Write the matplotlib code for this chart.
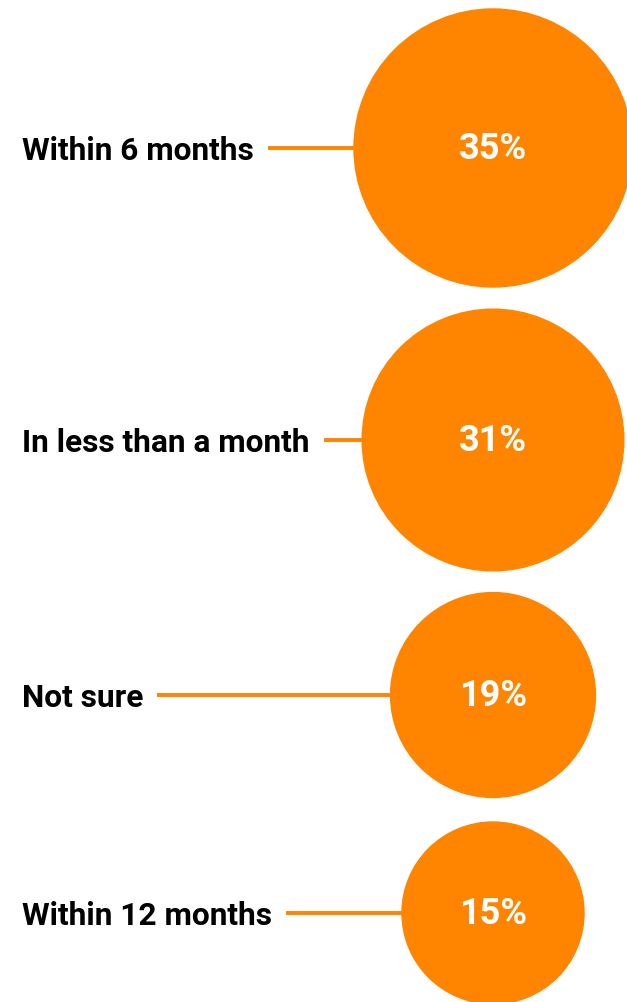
import matplotlib
matplotlib.use("Agg")
import matplotlib.pyplot as plt
from matplotlib.patches import Circle
import numpy as np

categories = ["Within 6 months", "In less than a month", "Not sure", "Within 12 months"]
values = [35, 31, 19, 15]
value_labels = ["35%", "31%", "19%", "15%"]

ORANGE = "#FF8500"
W, H = 627, 1002
fig = plt.figure(figsize=(W / 100, H / 100), dpi=100)
ax = fig.add_axes([0, 0, 1, 1])
ax.set_xlim(0, W)
ax.set_ylim(H, 0)
ax.set_aspect("equal")
ax.axis("off")

centers_y = [148, 440, 695, 913]
cx = 493
scale = 23.5  # px per sqrt(percent)
label_x = 22

fig.canvas.draw()
renderer = fig.canvas.get_renderer()

for cat, v, vl, cy in zip(categories, values, value_labels, centers_y):
    r = scale * np.sqrt(v)
    ax.add_patch(Circle((cx, cy), r, color=ORANGE, zorder=2, clip_on=False))
    t = ax.text(label_x, cy, cat, ha="left", va="center_baseline", fontsize=22.8,
                fontfamily="Roboto", fontweight="bold", color="#000000")
    ax.text(cx, cy - 3, vl, ha="center", va="center_baseline", fontsize=26,
            fontfamily="Roboto", fontweight="bold", color="white", zorder=3)
    bb = t.get_window_extent(renderer=renderer)
    x_end_text = ax.transData.inverted().transform((bb.x1, bb.y0))[0]
    ax.plot([x_end_text + 14, cx - r + 1], [cy, cy], color=ORANGE, lw=2.8,
            solid_capstyle="butt", zorder=1)

fig.savefig("out.png", dpi=100, facecolor="white")
